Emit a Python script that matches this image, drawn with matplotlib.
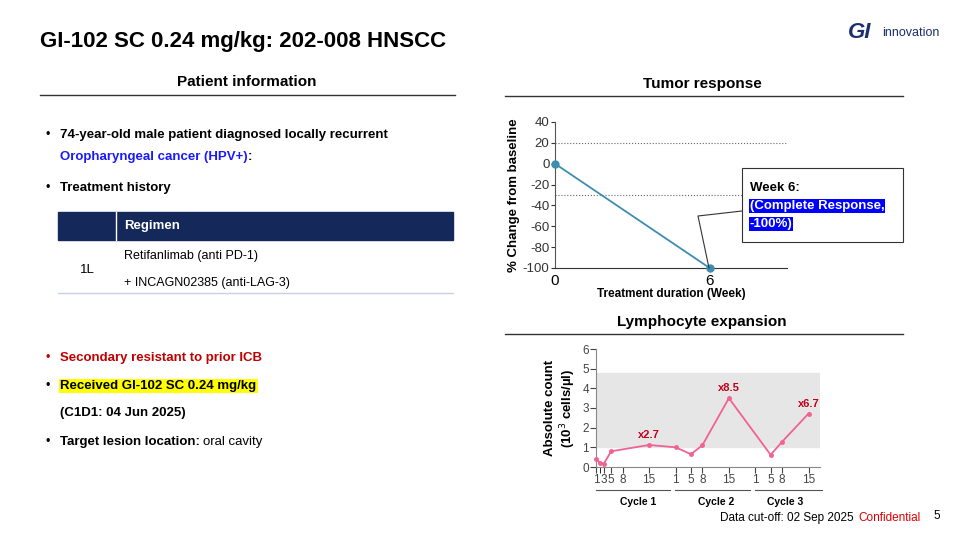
import numpy as np
import matplotlib.pyplot as plt
from matplotlib.patches import Rectangle
from matplotlib.lines import Line2D

plt.rcParams.update({'font.family': 'Liberation Sans', 'axes.unicode_minus': False})

# tumor response data
weeks = [0, 6]
pct_change = [0, -100]

# lymphocyte data (cycle, day, count)
cycle_offset = {1: 0, 2: 21, 3: 42}
lym_cycle = [1, 1, 1, 1, 1, 2, 2, 2, 2, 3, 3, 3]
lym_day = [1, 2, 3, 5, 15, 1, 5, 8, 15, 5, 8, 15]
lym_count = [0.42, 0.2, 0.15, 0.8, 1.12, 1.0, 0.65, 1.1, 3.5, 0.62, 1.28, 2.72]
tick_days = {1: [1, 3, 5, 8, 15], 2: [1, 5, 8, 15], 3: [1, 5, 8, 15]}
fold_labels = [(1, 15, 'x2.7'), (2, 15, 'x8.5'), (3, 15, 'x6.7')]

W, H = 960, 537
fig = plt.figure(figsize=(9.6, 5.37), dpi=100)


def T(x, y, s, **kw):
    kw.setdefault('fontsize', 9.5)
    kw.setdefault('va', 'center')
    return fig.text(x / W, 1 - y / H, s, **kw)


def hline(x0, x1, y, **kw):
    fig.add_artist(Line2D([x0 / W, x1 / W], [1 - y / H, 1 - y / H], **kw))


def rect(x, y, w, h, **kw):
    fig.add_artist(Rectangle((x / W, 1 - (y + h) / H), w / W, h / H, **kw))


# title and logo
T(40, 42, 'GI-102 SC 0.24 mg/kg: 202-008 HNSCC', fontsize=16, fontweight='bold')
T(848, 33, 'GI', fontsize=16, fontweight='bold', color='#1b2f6e', fontstyle='italic')
T(882, 33, 'innovation', fontsize=9, color='#1b2f6e')

# section headers
T(247, 82, 'Patient information', fontsize=11, fontweight='bold', ha='center')
hline(40, 455, 95, color='#333333', lw=1)
T(702, 84, 'Tumor response', fontsize=11, fontweight='bold', ha='center')
hline(505, 903, 96, color='#333333', lw=1)
T(702, 322, 'Lymphocyte expansion', fontsize=11, fontweight='bold', ha='center')
hline(505, 903, 334, color='#333333', lw=1)

# patient info
T(45, 135, '•', fontsize=9)
T(60, 135, '74-year-old male patient diagnosed locally recurrent', fontweight='bold')
T(60, 157, 'Oropharyngeal cancer (HPV+)', fontweight='bold', color='#1a1aff')
T(248, 157, ':', fontweight='bold')
T(45, 188, '•', fontsize=9)
T(60, 188, 'Treatment history', fontweight='bold')

rect(58, 212, 395, 28, color='#14285a')
fig.add_artist(Line2D([116 / W, 116 / W], [1 - 212 / H, 1 - 240 / H], color='white', lw=1))
T(124, 226, 'Regimen', color='white', fontweight='bold')
T(80, 270, '1L', fontsize=9.5)
T(124, 256, 'Retifanlimab (anti PD-1)', fontsize=9)
T(124, 283, '+ INCAGN02385 (anti-LAG-3)', fontsize=9)
hline(58, 453, 293, color='#c8d0dc', lw=1)

T(45, 358, '•', fontsize=9, color='#c00000')
T(60, 358, 'Secondary resistant to prior ICB', fontweight='bold', color='#c00000')
T(45, 386, '•', fontsize=9)
T(60, 386, 'Received GI-102 SC 0.24 mg/kg', fontweight='bold',
  bbox=dict(facecolor='#ffff00', edgecolor='none', pad=1))
T(60, 413, '(C1D1: 04 Jun 2025)', fontweight='bold')
T(45, 442, '•', fontsize=9)
T(60, 442, 'Target lesion location:', fontweight='bold')
T(203, 442, 'oral cavity')

# footer
T(720, 518, 'Data cut-off: 02 Sep 2025', fontsize=8.5)
T(858, 518, 'Confidential', fontsize=8.5, color='#e00000')
T(933, 516, '5', fontsize=8.5)

# tumor response chart
ax = fig.add_axes([555 / W, 1 - 268 / H, 232 / W, 146 / H])
ax.plot(weeks, pct_change, color='#3b8fae', lw=1.3, marker='o', ms=5, clip_on=False, zorder=5)
ax.axhline(20, color='#666666', ls=':', lw=0.8)
ax.axhline(-30, color='#666666', ls=':', lw=0.8)
ax.set_xlim(0, 9)
ax.set_ylim(-100, 40)
ax.set_yticks(range(-100, 41, 20))
ax.set_xticks([0, 6])
ax.tick_params(axis='y', labelsize=9.5, colors='#333333', length=3, pad=1)
ax.tick_params(axis='x', labelsize=11, length=0, pad=4)
for s in ['top', 'right']:
    ax.spines[s].set_visible(False)
ax.spines['left'].set_color('#555555')
ax.spines['bottom'].set_color('#333333')
ax.set_ylabel('% Change from baseline', fontsize=9.5, fontweight='bold', labelpad=2)
ax.set_xlabel('Treatment duration (Week)', fontsize=8.5, fontweight='bold', labelpad=0)
ax.patch.set_alpha(0)

# callout
rect(742, 168, 161, 74, facecolor='white', edgecolor='#333333', lw=0.8)
fig.add_artist(Line2D([709 / W, 698 / W, 742 / W], [1 - 268 / H, 1 - 216 / H, 1 - 211 / H],
                      color='#333333', lw=0.8))
T(750, 188, 'Week 6:', fontweight='bold')
T(750, 206, '(Complete Response,', fontweight='bold', color='white',
  bbox=dict(facecolor='#0000ff', edgecolor='none', pad=0.5))
T(750, 224, '-100%)', fontweight='bold', color='white',
  bbox=dict(facecolor='#0000ff', edgecolor='none', pad=0.5))

# lymphocyte chart
ax2 = fig.add_axes([596 / W, 1 - 467 / H, 224 / W, 118 / H])
xs = [cycle_offset[c] + d for c, d in zip(lym_cycle, lym_day)]
ax2.axhspan(1, 4.8, color='#e6e6e6', zorder=0)
ax2.plot(xs, lym_count, color='#f06292', lw=1.3, marker='o', ms=2.5, clip_on=False, zorder=5)
for c, d, s in fold_labels:
    x = cycle_offset[c] + d
    y = lym_count[xs.index(x)]
    ax2.text(x, y + 0.35, s, color='#c0001a', fontsize=8, fontweight='bold', ha='center')
ticks, labels = [], []
for c, ds in tick_days.items():
    for d in ds:
        ticks.append(cycle_offset[c] + d)
        labels.append(str(d))
ax2.set_xticks(ticks)
ax2.set_xticklabels(labels)
ax2.set_xticks([2], minor=True)
ax2.set_xlim(1, 60)
ax2.set_ylim(0, 6)
ax2.set_yticks(range(7))
ax2.tick_params(axis='both', labelsize=8.5, colors='#444444', length=4, pad=1)
ax2.tick_params(axis='x', which='minor', length=4)
for s in ['top', 'right']:
    ax2.spines[s].set_visible(False)
for s in ['left', 'bottom']:
    ax2.spines[s].set_color('#888888')
ax2.set_ylabel('Absolute count\n(10$^3$ cells/µl)', fontsize=9.5, fontweight='bold', labelpad=3)

# cycle labels
for x0, x1, xc, s in [(596, 670, 638, 'Cycle 1'), (675, 750, 716, 'Cycle 2'), (755, 822, 785, 'Cycle 3')]:
    hline(x0, x1, 490, color='#555555', lw=0.8)
    T(xc, 502, s, fontsize=7.5, fontweight='bold', ha='center')

fig.savefig('out.png', dpi=100)
